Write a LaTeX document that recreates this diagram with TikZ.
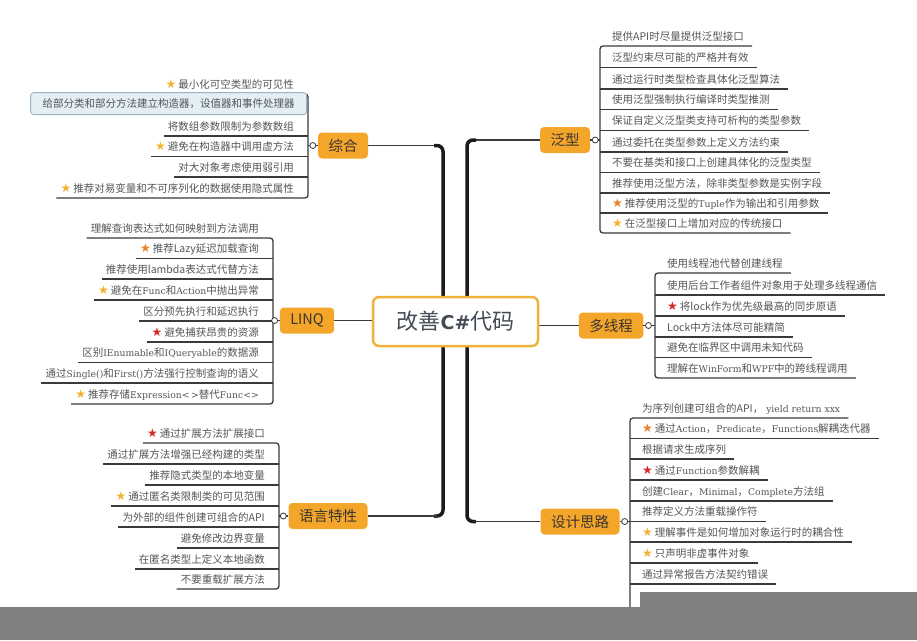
\documentclass[tikz,border=0pt]{standalone}
\usepackage{fontspec}
\setmainfont{Noto Sans CJK SC}
\newfontfamily\symf{DejaVu Sans}
\newfontfamily\lsf{DejaVu Serif}[Scale=0.88]
\usetikzlibrary{calc}
\definecolor{branchc}{HTML}{F4A62A}
\definecolor{branchtext}{HTML}{3A3430}
\definecolor{leaftext}{HTML}{555555}
\definecolor{linec}{HTML}{3A3A3A}
\definecolor{trunkc}{HTML}{1E1A18}
\definecolor{centerborder}{HTML}{F0B23A}
\definecolor{centertext}{HTML}{454B57}
\definecolor{starY}{HTML}{F2B233}
\definecolor{starO}{HTML}{E8802A}
\definecolor{starR}{HTML}{D42A2A}
\definecolor{boxfill}{HTML}{E3EEF5}
\definecolor{boxborder}{HTML}{9DB3C2}
\definecolor{greyc}{HTML}{808080}
\newcommand\stY{{\symf\fontsize{12}{12}\selectfont\textcolor{starY}{★}}\hspace{2pt}}
\newcommand\stO{{\symf\fontsize{12}{12}\selectfont\textcolor{starO}{★}}\hspace{2pt}}
\newcommand\stR{{\symf\fontsize{12}{12}\selectfont\textcolor{starR}{★}}\hspace{2pt}}
\pgfdeclarelayer{bg}
\pgfsetlayers{bg,main}
\tikzset{
  leafL/.style={anchor=south east, inner xsep=4pt, inner ysep=4pt, text height=8.5pt, text depth=1.5pt, font=\fontsize{10.5}{12}\selectfont, text=leaftext},
  leafR/.style={leafL, anchor=south west, inner xsep=8pt},
  selbox/.style={leafL, draw=boxborder, fill=boxfill, rounded corners=3pt, inner xsep=12pt, minimum height=22pt, line width=0.8pt},
  uline/.style={draw=linec, line width=1.1pt},
  bracket/.style={draw=linec, line width=1.3pt, rounded corners=3pt},
  branch/.style={fill=branchc, rounded corners=4pt, minimum height=26pt, inner xsep=10.5pt, font=\fontsize{14.5}{16}\selectfont, text=branchtext},
  knob/.style={circle, draw=linec, fill=white, inner sep=0pt, minimum size=6pt, line width=0.8pt},
  trunk/.style={draw=trunkc, line width=3.5pt, rounded corners=6pt},
  thinc/.style={draw=linec, line width=1.1pt},
}
\begin{document}
\begin{tikzpicture}[x=1pt,y=-1pt]
\useasboundingbox (0,0) rectangle (917,640);

% ---- center and branches
\node[draw=centerborder, line width=2.5pt, fill=white, rounded corners=6pt, minimum width=165pt, minimum height=49pt, font=\fontsize{22}{24}\selectfont, text=centertext] (center) at (455.5,321.5) {改善{\symf\bfseries\fontsize{19}{20}\selectfont C\#}代码};

\node[branch] (zh) at (343,145.5) {综合};
\node[branch] (linq) at (307,320.5) {LINQ};
\node[branch] (yy) at (328,516) {语言特性};
\node[branch] (fx) at (565,140) {泛型};
\node[branch] (dxc) at (611,325.5) {多线程};
\node[branch] (sj) at (580,521.5) {设计思路};

\coordinate (tl) at (443,0);
\coordinate (tr) at (467,0);
\begin{pgfonlayer}{bg}
\fill[white] (0,0) rectangle (917,640);
\draw[thinc] (zh.east) -- ($(zh.east -| tl)+(-6,0)$);
\draw[trunk] ($(zh.east -| tl)+(-9,0)$) -- (zh.east -| tl) -- (yy.east -| tl) -- ($(yy.east -| tl)+(-9,0)$);
\draw[thinc] (yy.east) -- ($(yy.east -| tl)+(-6,0)$);
\draw[thinc] (fx.west) -- ($(fx.west -| tr)+(6,0)$);
\draw[trunk] ($(fx.west -| tr)+(9,0)$) -- (fx.west -| tr) -- (sj.west -| tr) -- ($(sj.west -| tr)+(9,0)$);
\draw[thinc] (sj.west) -- ($(sj.west -| tr)+(6,0)$);
\draw[thinc] (linq.east) -- (linq.east -| center.west);
\draw[thinc] (dxc.west) -- (dxc.west -| center.east);
\end{pgfonlayer}

% ---- 综合
\coordinate (zb) at (308,0);
\node[leafL] (z1) at (298,94) {\stY 最小化可空类型的可见性};
\node[leafL] (z3) at (298,136) {将数组参数限制为参数数组};
\node[leafL] (z4) at (298,156.5) {\stY 避免在构造器中调用虚方法};
\node[leafL] (z5) at (298,177) {对大对象考虑使用弱引用};
\node[leafL] (z6) at (298,198) {\stY 推荐对易变量和不可序列化的数据使用隐式属性};
\draw[bracket] (z1.south west) -- (z1.south west -| zb) -- (z6.south west -| zb) -- (z6.south west);
\foreach \n in {z3,z4,z5} \draw[uline] (\n.south west) -- (\n.south west -| zb);
\node[selbox] (z2) at (307,115) {给部分类和部分方法建立构造器，设值器和事件处理器};
\draw[thinc] (zh.west) -- (zh.west -| zb);
\node[knob] (k1) at ($(zh.west)+(-5,0)$) {};

% ---- LINQ
\coordinate (lb) at (273,0);
\node[leafL] (l1) at (263,238) {理解查询表达式如何映射到方法调用};
\node[leafL] (l2) at (263,258.5) {\stO 推荐Lazy延迟加载查询};
\node[leafL] (l3) at (263,279) {推荐使用lambda表达式代替方法};
\node[leafL] (l4) at (263,300) {\stY 避免在{\lsf Func}和{\lsf Action}中抛出异常};
\node[leafL] (l5) at (263,321) {区分预先执行和延迟执行};
\node[leafL] (l6) at (263,342) {\stR 避免捕获昂贵的资源};
\node[leafL] (l7) at (263,362.5) {区别{\lsf IEnumable}和{\lsf IQueryable}的数据源};
\node[leafL] (l8) at (263,383) {通过{\lsf Single()}和{\lsf First()}方法强行控制查询的语义};
\node[leafL] (l9) at (263,404) {\stY 推荐存储{\lsf Expression<\,>}替代{\lsf Func<>}};
\draw[bracket] (l1.south west) -- (l1.south west -| lb) -- (l9.south west -| lb) -- (l9.south west);
\foreach \n in {l2,l3,l4,l5,l6,l7,l8} \draw[uline] (\n.south west) -- (\n.south west -| lb);
\draw[thinc] (linq.west) -- (linq.west -| lb);
\node[knob] (k2) at ($(linq.west)+(-5,0)$) {};

% ---- 语言特性
\coordinate (yb) at (279,0);
\node[leafL] (y1) at (269,443) {\stR 通过扩展方法扩展接口};
\node[leafL] (y2) at (269,464) {通过扩展方法增强已经构建的类型};
\node[leafL] (y3) at (269,485) {推荐隐式类型的本地变量};
\node[leafL] (y4) at (269,506) {\stY 通过匿名类限制类的可见范围};
\node[leafL] (y5) at (269,527) {为外部的组件创建可组合的API};
\node[leafL] (y6) at (269,548) {避免修改边界变量};
\node[leafL] (y7) at (269,569) {在匿名类型上定义本地函数};
\node[leafL] (y8) at (269,589) {不要重载扩展方法};
\draw[bracket] (y1.south west) -- (y1.south west -| yb) -- (y8.south west -| yb) -- (y8.south west);
\foreach \n in {y2,y3,y4,y5,y6,y7} \draw[uline] (\n.south west) -- (\n.south west -| yb);
\draw[thinc] (yy.west) -- (yy.west -| yb);
\node[knob] (k3) at ($(yy.west)+(-5,0)$) {};

% ---- 泛型
\coordinate (gb) at (600,0);
\node[leafR] (g1) at (604,46) {提供API时尽量提供泛型接口};
\node[leafR] (g2) at (604,67.5) {泛型约束尽可能的严格并有效};
\node[leafR] (g3) at (604,89) {通过运行时类型检查具体化泛型算法};
\node[leafR] (g4) at (604,109.5) {使用泛型强制执行编译时类型推测};
\node[leafR] (g5) at (604,130.5) {保证自定义泛型类支持可析构的类型参数};
\node[leafR] (g6) at (604,152) {通过委托在类型参数上定义方法约束};
\node[leafR] (g7) at (604,172.5) {不要在基类和接口上创建具体化的泛型类型};
\node[leafR] (g8) at (604,193) {推荐使用泛型方法，除非类型参数是实例字段};
\node[leafR] (g9) at (604,213) {\stO 推荐使用泛型的{\lsf Tuple}作为输出和引用参数};
\node[leafR] (g10) at (604,233) {\stY 在泛型接口上增加对应的传统接口};
\draw[bracket] (g1.south east) -- (g1.south west -| gb) -- (g10.south west -| gb) -- (g10.south east);
\foreach \n in {g2,g3,g4,g5,g6,g7,g8,g9} \draw[uline] (\n.south west -| gb) -- (\n.south east);
\draw[thinc] (fx.east) -- (fx.east -| gb);
\node[knob] (k4) at ($(fx.east)+(5,0)$) {};

% ---- 多线程
\coordinate (mb) at (655,0);
\node[leafR] (m1) at (659,273) {使用线程池代替创建线程};
\node[leafR] (m2) at (659,295) {使用后台工作者组件对象用于处理多线程通信};
\node[leafR] (m3) at (659,316) {\stR 将lock作为优先级最高的同步原语};
\node[leafR] (m4) at (659,337) {Lock中方法体尽可能精简};
\node[leafR] (m5) at (659,357.5) {避免在临界区中调用未知代码};
\node[leafR] (m6) at (659,378) {理解在{\lsf WinForm}和{\lsf WPF}中的跨线程调用};
\draw[bracket] (m1.south east) -- (m1.south west -| mb) -- (m6.south west -| mb) -- (m6.south east);
\foreach \n in {m2,m3,m4,m5} \draw[uline] (\n.south west -| mb) -- (\n.south east);
\draw[thinc] (dxc.east) -- (dxc.east -| mb);
\node[knob] (k5) at ($(dxc.east)+(5,0)$) {};

% ---- 设计思路
\coordinate (db) at (630,0);
\coordinate (dend) at (630,607);
\node[leafR] (d1) at (634,418) {为序列创建可组合的API，{\lsf\ yield return xxx}};
\node[leafR] (d2) at (634,438.5) {\stO 通过{\lsf Action}，{\lsf Predicate}，{\lsf Functions}解耦迭代器};
\node[leafR] (d3) at (634,459) {根据请求生成序列};
\node[leafR] (d4) at (634,480) {\stR 通过{\lsf Function}参数解耦};
\node[leafR] (d5) at (634,501) {创建{\lsf Clear}，{\lsf Minimal}，{\lsf Complete}方法组};
\node[leafR] (d6) at (634,521.5) {推荐定义方法重载操作符};
\node[leafR] (d7) at (634,542) {\stY 理解事件是如何增加对象运行时的耦合性};
\node[leafR] (d8) at (634,563) {\stY 只声明非虚事件对象};
\node[leafR] (d9) at (634,584) {通过异常报告方法契约错误};
\draw[bracket] (d1.south east) -- (d1.south west -| db) -- (dend);
\foreach \n in {d2,d3,d4,d5,d6,d7,d8,d9} \draw[uline] (\n.south west -| db) -- (\n.south east);
\draw[thinc] (sj.east) -- (sj.east -| db);
\node[knob] (k6) at ($(sj.east)+(5,0)$) {};

% ---- grey overlays at the bottom
\fill[greyc] (640,592) rectangle (917,608);
\fill[greyc] (0,607) rectangle (917,640);
\end{tikzpicture}
\end{document}
